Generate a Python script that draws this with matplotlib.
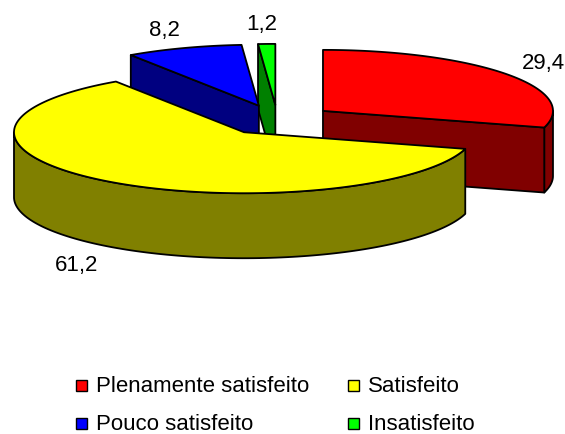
import numpy as np
import matplotlib.pyplot as plt
from matplotlib.patches import Polygon, Rectangle

categorias = ['Plenamente satisfeito', 'Satisfeito', 'Pouco satisfeito', 'Insatisfeito']
valores = [29.4, 61.2, 8.2, 1.2]
rotulos = ['29,4', '61,2', '8,2', '1,2']
cor_topo = ['#FF0000', '#FFFF00', '#0000FF', '#00FF00']
cor_lado = ['#800000', '#808000', '#000080', '#008000']

plt.rcParams['font.family'] = ['Liberation Sans', 'DejaVu Sans']
fs = 16

# geometria da pizza 3D, em pixels
cx, cy = 277.5, 120.0
rx, ry = 230.0, 61.0
altura = 65.0
explode = 57.0

fig = plt.figure(figsize=(5.65, 4.34), dpi=100)
ax = fig.add_axes([0, 0, 1, 1])
ax.set_xlim(0, 565)
ax.set_ylim(434, 0)
ax.axis('off')


def borda(x0, y0, ang):
    a = np.radians(ang)
    return x0 + rx * np.cos(a), y0 - ry * np.sin(a)


def poly(pts, cor):
    ax.add_patch(Polygon(pts, closed=True, facecolor=cor, edgecolor='black',
                         linewidth=1.3, joinstyle='round'))


total = sum(valores)
fatias = []
acum = 0.0
for i, v in enumerate(valores):
    hi = 90 - acum / total * 360
    lo = hi - v / total * 360
    acum += v
    meio = np.radians((hi + lo) / 2)
    x0 = cx + explode * np.cos(meio)
    y0 = cy - explode * (ry / rx) * np.sin(meio)
    fatias.append((i, lo, hi, x0, y0))

# desenha de trás para a frente
for i, lo, hi, x0, y0 in sorted(fatias, key=lambda f: f[4]):
    # face externa (curva), só a parte voltada para frente
    for k in range(-2, 2):
        a = max(lo, 180 + 360 * k)
        b = min(hi, 360 + 360 * k)
        if b > a:
            t = np.linspace(a, b, 120)
            xs, ys = borda(x0, y0, t)
            pts = np.column_stack([np.r_[xs, xs[::-1]],
                                   np.r_[ys, ys[::-1] + altura]])
            poly(pts, cor_lado[i])
    # faces radiais
    for ang, normal in ((lo, lo - 90), (hi, hi + 90)):
        if np.sin(np.radians(normal)) < -1e-6:
            px, py = borda(x0, y0, ang)
            pts = [(x0, y0), (px, py), (px, py + altura), (x0, y0 + altura)]
            poly(pts, cor_lado[i])
    # topo
    t = np.linspace(lo, hi, 200)
    xs, ys = borda(x0, y0, t)
    pts = np.column_stack([np.r_[x0, xs], np.r_[y0, ys]])
    poly(pts, cor_topo[i])

# rótulos de dados
for i, lo, hi, x0, y0 in fatias:
    m = np.radians((hi + lo) / 2)
    lx = x0 + 280 * np.cos(m)
    ly = y0 - 82 * np.sin(m)
    if np.sin(m) < 0:
        ly += altura
    ax.text(lx - 3, ly + 7.5, rotulos[i], ha='center', va='baseline', fontsize=fs)

# legenda
col_x = [76, 348]
lin_y = [391.5, 429.5]
for i, nome in enumerate(categorias):
    x = col_x[i % 2]
    y = lin_y[i // 2]
    ax.add_patch(Rectangle((x, y - 11.5), 11, 11, facecolor=cor_topo[i],
                           edgecolor='black', linewidth=1.0))
    ax.text(x + 20, y, nome, ha='left', va='baseline', fontsize=fs)

fig.savefig('out.png', dpi=100)
